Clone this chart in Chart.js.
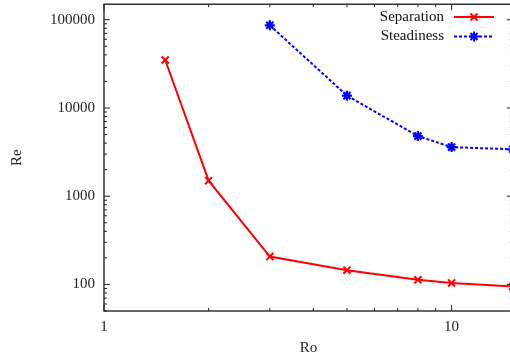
<!DOCTYPE html>
<html>
<head>
<meta charset="utf-8">
<script src="https://cdn.jsdelivr.net/npm/chart.js@4.4.1/dist/chart.umd.min.js"></script>
<style>
	html, body { margin: 0; padding: 0; background: #fff; overflow: hidden; }
	#wrap { position: relative; width: 520px; height: 366px; margin-top: -3px; }
</style>
</head>
<body>
<div id="wrap"><canvas id="myChart"></canvas></div>
<script>
// Ro values and the critical Re for each curve
const sepRo = [1.5, 2, 3, 5, 8, 10, 15];
const sepRe = [35000, 1500, 207, 145, 113, 104, 95];
const stdRo = [3, 5, 8, 10, 15];
const stdRe = [86500, 13800, 4800, 3600, 3400];

const xTicks = [1, 10];
const yTicks = [100, 1000, 10000, 100000];

const fontFam = "'Liberation Serif', 'DejaVu Serif', serif";

function pts(xs, ys) {
	return xs.map((x, i) => ({ x: x, y: ys[i] }));
}

// frame with inward ticks on every side, gnuplot style
const frameTicks = {
	id: 'frameTicks',
	afterDatasetsDraw(chart) {
		const c = chart.ctx;
		const a = chart.chartArea;
		const xs = chart.scales.x;
		const ys = chart.scales.y;
		c.save();
		c.strokeStyle = '#000';
		c.lineWidth = 1.2;
		c.strokeRect(a.left, a.top, a.right - a.left, a.bottom - a.top);
		c.lineWidth = 1;
		c.strokeStyle = '#222';
		for (let d = 1; d <= 100; d *= 10) {
			for (let m = 1; m <= 9; m++) {
				const v = d * m;
				if (v < xs.min || v > xs.max) continue;
				const px = xs.getPixelForValue(v);
				const len = m == 1 ? 6 : 3;
				c.beginPath();
				c.moveTo(px, a.bottom); c.lineTo(px, a.bottom - len);
				c.moveTo(px, a.top); c.lineTo(px, a.top + len);
				c.stroke();
			}
		}
		for (let d = 10; d <= 100000; d *= 10) {
			for (let m = 1; m <= 9; m++) {
				const v = d * m;
				if (v < ys.min || v > ys.max) continue;
				const py = ys.getPixelForValue(v);
				const len = m == 1 ? 6 : 3;
				c.beginPath();
				c.moveTo(a.left, py); c.lineTo(a.left + len, py);
				c.moveTo(a.right, py); c.lineTo(a.right - len, py);
				c.stroke();
			}
		}
		c.restore();
	}
};

// key in the top right corner: label, then line sample with its marker
const keyBox = {
	id: 'keyBox',
	afterDraw(chart) {
		const c = chart.ctx;
		c.save();
		c.font = '15px ' + fontFam;
		c.textAlign = 'right';
		c.textBaseline = 'middle';
		chart.data.datasets.forEach((ds, i) => {
			const y = 20 + i * 19.5;
			c.fillStyle = '#111';
			c.fillText(ds.label, 444, y);
			c.strokeStyle = ds.borderColor;
			c.lineWidth = ds.borderWidth;
			c.setLineDash(ds.borderDash || []);
			c.beginPath();
			c.moveTo(454, y);
			c.lineTo(494, y);
			c.stroke();
			c.setLineDash([]);
			Chart.helpers.drawPoint(c, {
				pointStyle: ds.pointStyle,
				radius: ds.pointRadius,
				borderWidth: ds.pointBorderWidth
			}, 474, y);
		});
		c.restore();
	}
};

const ctx = document.getElementById('myChart');

let grafico = new Chart(ctx, {
	type: 'line',
	data: {
		datasets: [
			{
				label: 'Separation',
				data: pts(sepRo, sepRe),
				borderColor: '#ff0000',
				backgroundColor: '#ff0000',
				borderWidth: 2,
				pointStyle: 'crossRot',
				pointRadius: 5,
				pointBorderWidth: 2,
				pointBorderColor: '#ff0000',
			},
			{
				label: 'Steadiness',
				data: pts(stdRo, stdRe),
				borderColor: '#0000ff',
				backgroundColor: '#0000ff',
				borderWidth: 2,
				borderDash: [3, 2],
				pointStyle: 'star',
				pointRadius: 5,
				pointBorderWidth: 2.2,
				pointBorderColor: '#0000ff',
			},
		],
	},
	options: {
		responsive: true,
		maintainAspectRatio: false,
		animation: false,
		layout: { padding: { top: 0, right: 7, left: 0, bottom: 0 } },
		plugins: { legend: { display: false }, tooltip: { enabled: false } },
		elements: { line: { tension: 0 } },
		scales: {
			x: {
				type: 'logarithmic',
				min: 1,
				max: 15,
				grid: { display: false, drawTicks: false, tickLength: 0 },
				border: { display: false },
				afterBuildTicks: (s) => { s.ticks = xTicks.map(v => ({ value: v })); },
				afterFit: (s) => {
					s.height = 52;
					s.paddingLeft = 0;
					s.paddingRight = 0;
				},
				ticks: {
					padding: 7,
					color: '#222',
					font: { family: fontFam, size: 15 },
					callback: (v) => String(v),
				},
				title: {
					display: true,
					text: 'Ro',
					color: '#222',
					font: { family: fontFam, size: 15 },
					padding: { top: 0, bottom: 6 },
				},
			},
			y: {
				type: 'logarithmic',
				min: 50,
				max: 150000,
				grid: { display: false, drawTicks: false, tickLength: 0 },
				border: { display: false },
				afterBuildTicks: (s) => { s.ticks = yTicks.map(v => ({ value: v })); },
				afterFit: (s) => {
					s.width = 104;
					s.paddingTop = 0;
					s.paddingBottom = 0;
				},
				ticks: {
					padding: 9,
					color: '#222',
					font: { family: fontFam, size: 15 },
					callback: (v) => String(v),
				},
				title: {
					display: true,
					text: 'Re',
					color: '#222',
					font: { family: fontFam, size: 15 },
					padding: { top: 8, bottom: 0 },
				},
			},
		},
	},
	plugins: [frameTicks, keyBox],
});
</script>
</body>
</html>
